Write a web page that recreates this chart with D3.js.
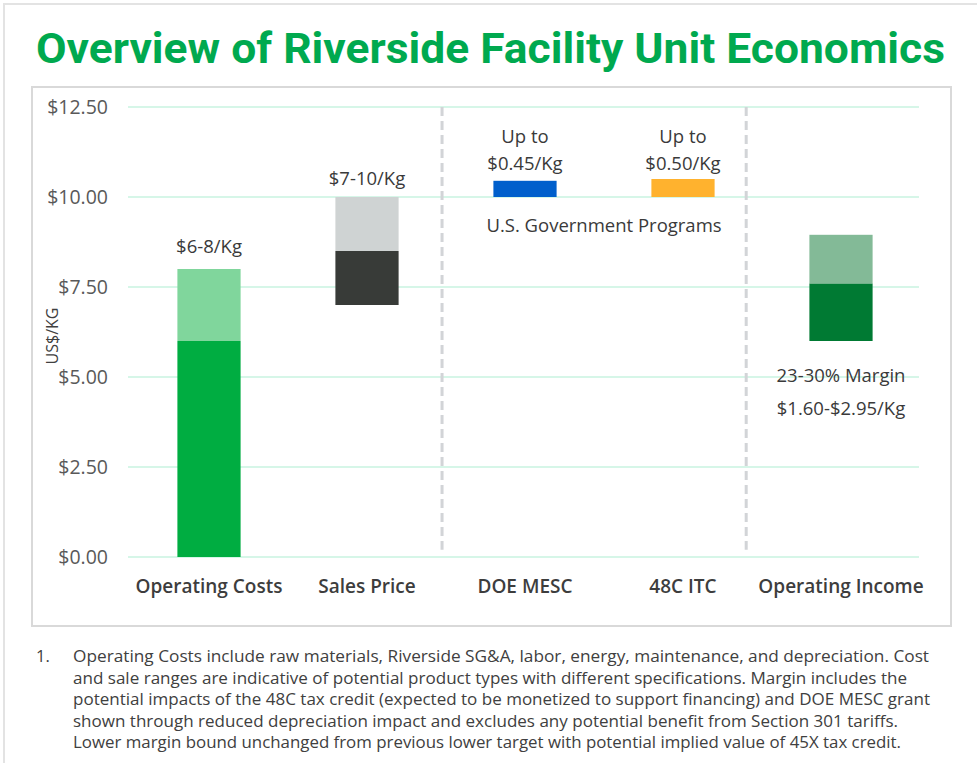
<!DOCTYPE html>
<html>
<head>
<meta charset="utf-8">
<script src="https://cdn.jsdelivr.net/npm/d3@7"></script>
<style>
  body { margin: 0; background: #fff; }
  svg text { font-family: "Open Sans", "Noto Sans", sans-serif; }
</style>
</head>
<body>
<div id="chart"></div>
<script>
// chart values
const categories = ['Operating Costs', 'Sales Price', 'DOE MESC', '48C ITC', 'Operating Income'];
const lowStart = [0, 7, 10, 10, 6];
const lowEnd = [6, 8.5, 10.45, 10.5, 7.6];
const highEnd = [8, 10, null, null, 8.95];
const lowColors = ['#00ad41', '#383b38', '#005fcc', '#ffb22e', '#007a33'];
const highColors = ['#80d69c', '#cfd3d3', null, null, '#83ba97'];
const yTicks = [0, 2.5, 5, 7.5, 10, 12.5];

// labels sitting over / under the bars (y given as a value on the axis)
const barLabels = [
  {cat: 'Operating Costs', at: 8.44, gap: 0, lines: ['$6-8/Kg']},
  {cat: 'Sales Price', at: 10.33, gap: 0, lines: ['$7-10/Kg']},
  {cat: 'DOE MESC', at: 11.5, gap: 27, lines: ['Up to', '$0.45/Kg']},
  {cat: '48C ITC', at: 11.5, gap: 27, lines: ['Up to', '$0.50/Kg']},
  {cat: 'Operating Income', at: 4.86, gap: 33, lines: ['23-30% Margin', '$1.60-$2.95/Kg']}
];
const groupLabel = 'U.S. Government Programs';

const footnote = [
  'Operating Costs include raw materials, Riverside SG&A, labor, energy, maintenance, and depreciation. Cost',
  'and sale ranges are indicative of potential product types with different specifications. Margin includes the',
  'potential impacts of the 48C tax credit (expected to be monetized to support financing) and DOE MESC grant',
  'shown through reduced depreciation impact and excludes any potential benefit from Section 301 tariffs.',
  'Lower margin bound unchanged from previous lower target with potential implied value of 45X tax credit.'
];
const footnoteWidths = [856, 834, 857, 825, 828];

let width = 977, height = 763;

let svg = d3.select('#chart')
  .append('svg')
    .attr('width', width)
    .attr('height', height);

// outer frame (top and left edges of the slide crop)
svg.append('path')
  .attr('d', 'M4,' + height + 'V4H' + width)
  .attr('fill', 'none')
  .attr('stroke', '#e3e3e3')
  .attr('stroke-width', 2);

// title
svg.append('text')
  .attr('x', 36)
  .attr('y', 63)
  .attr('textLength', 909)
  .attr('lengthAdjust', 'spacingAndGlyphs')
  .style('font-family', 'Roboto, sans-serif')
  .style('font-weight', 700)
  .style('font-size', '42px')
  .style('fill', '#00a94f')
  .text('Overview of Riverside Facility Unit Economics');

// chart box
svg.append('rect')
  .attr('x', 32)
  .attr('y', 87)
  .attr('width', 919)
  .attr('height', 539)
  .attr('fill', 'none')
  .attr('stroke', '#d9d9d9')
  .attr('stroke-width', 2);

// scales
let xScale = d3.scaleBand()
  .domain(categories)
  .range([130, 920])
  .paddingInner(0.6)
  .paddingOuter(0.3);

let yScale = d3.scaleLinear()
  .domain([0, 12.5])
  .range([557, 107]);

let step = xScale.step();
let cx = c => xScale(c) + xScale.bandwidth() / 2;

// gridlines
svg.append('g')
  .selectAll('line')
  .data(yTicks)
  .enter()
  .append('line')
    .attr('x1', 128)
    .attr('x2', 919)
    .attr('y1', d => yScale(d))
    .attr('y2', d => yScale(d))
    .attr('stroke', '#d6f6e8')
    .attr('stroke-width', 2);

// y axis labels
let yAxis = svg.append('g')
  .attr('transform', 'translate(108,0)')
  .call(d3.axisLeft(yScale).tickValues(yTicks).tickSize(0).tickPadding(0)
    .tickFormat(d => '$' + d3.format('.2f')(d)));
yAxis.select('.domain').remove();
yAxis.selectAll('text')
  .style('font-family', '"Open Sans", sans-serif')
  .style('font-size', '19.5px')
  .style('fill', '#595959');

// axis title
svg.append('text')
  .attr('transform', 'translate(58,336) rotate(-90)')
  .style('text-anchor', 'middle')
  .style('font-size', '16px')
  .style('fill', '#404040')
  .text('US$/KG');

// dashed separators
let seps = [cx('Sales Price') + 0.475 * step, cx('48C ITC') + 0.4 * step];
svg.append('g')
  .selectAll('line')
  .data(seps)
  .enter()
  .append('line')
    .attr('x1', d => d)
    .attr('x2', d => d)
    .attr('y1', yScale(12.5))
    .attr('y2', yScale(0.2))
    .attr('stroke', '#d2d4d7')
    .attr('stroke-width', 3)
    .attr('stroke-dasharray', '9,5');

// bars: lower segment then upper segment
let bars = categories.map((c, i) => ({cat: c, lo: lowStart[i], mid: lowEnd[i], hi: highEnd[i], i: i}));

svg.append('g')
  .selectAll('rect')
  .data(bars)
  .enter()
  .append('rect')
    .attr('x', d => xScale(d.cat))
    .attr('width', xScale.bandwidth())
    .attr('y', d => yScale(d.mid))
    .attr('height', d => yScale(d.lo) - yScale(d.mid))
    .attr('fill', d => lowColors[d.i]);

svg.append('g')
  .selectAll('rect')
  .data(bars.filter(d => d.hi != null))
  .enter()
  .append('rect')
    .attr('x', d => xScale(d.cat))
    .attr('width', xScale.bandwidth())
    .attr('y', d => yScale(d.hi))
    .attr('height', d => yScale(d.mid) - yScale(d.hi))
    .attr('fill', d => highColors[d.i]);

// bar labels
barLabels.forEach(function(l) {
  let t = svg.append('text')
    .attr('x', cx(l.cat))
    .attr('y', yScale(l.at))
    .style('text-anchor', 'middle')
    .style('font-size', '18.5px')
    .style('font-weight', 500)
    .style('fill', '#3a3a3a');
  l.lines.forEach(function(line, j) {
    t.append('tspan')
      .attr('x', cx(l.cat))
      .attr('dy', j === 0 ? 0 : l.gap)
      .text(line);
  });
});

// label over the two government program bars
svg.append('text')
  .attr('x', (cx('DOE MESC') + cx('48C ITC')) / 2)
  .attr('y', yScale(9.03))
  .style('text-anchor', 'middle')
  .style('font-size', '18.5px')
  .style('font-weight', 500)
  .style('fill', '#3a3a3a')
  .text(groupLabel);

// category labels
let xAxis = svg.append('g')
  .attr('transform', 'translate(0,' + 593 + ')')
  .call(d3.axisBottom(xScale).tickSize(0).tickPadding(0));
xAxis.select('.domain').remove();
xAxis.selectAll('text')
  .attr('y', 0)
  .attr('dy', 0)
  .style('font-family', '"Open Sans", sans-serif')
  .style('font-size', '19px')
  .style('font-weight', 600)
  .style('fill', '#3d3d3d');

// footnote
svg.append('text')
  .attr('x', 36)
  .attr('y', 662)
  .style('font-size', '16.5px')
  .style('fill', '#404040')
  .text('1.');

svg.append('g')
  .selectAll('text')
  .data(footnote)
  .enter()
  .append('text')
    .attr('x', 73)
    .attr('y', (d, i) => 662 + i * 21.6)
    .attr('textLength', (d, i) => footnoteWidths[i])
    .attr('lengthAdjust', 'spacingAndGlyphs')
    .style('font-size', '16.5px')
    .style('fill', '#404040')
    .text(d => d);
</script>
</body>
</html>
